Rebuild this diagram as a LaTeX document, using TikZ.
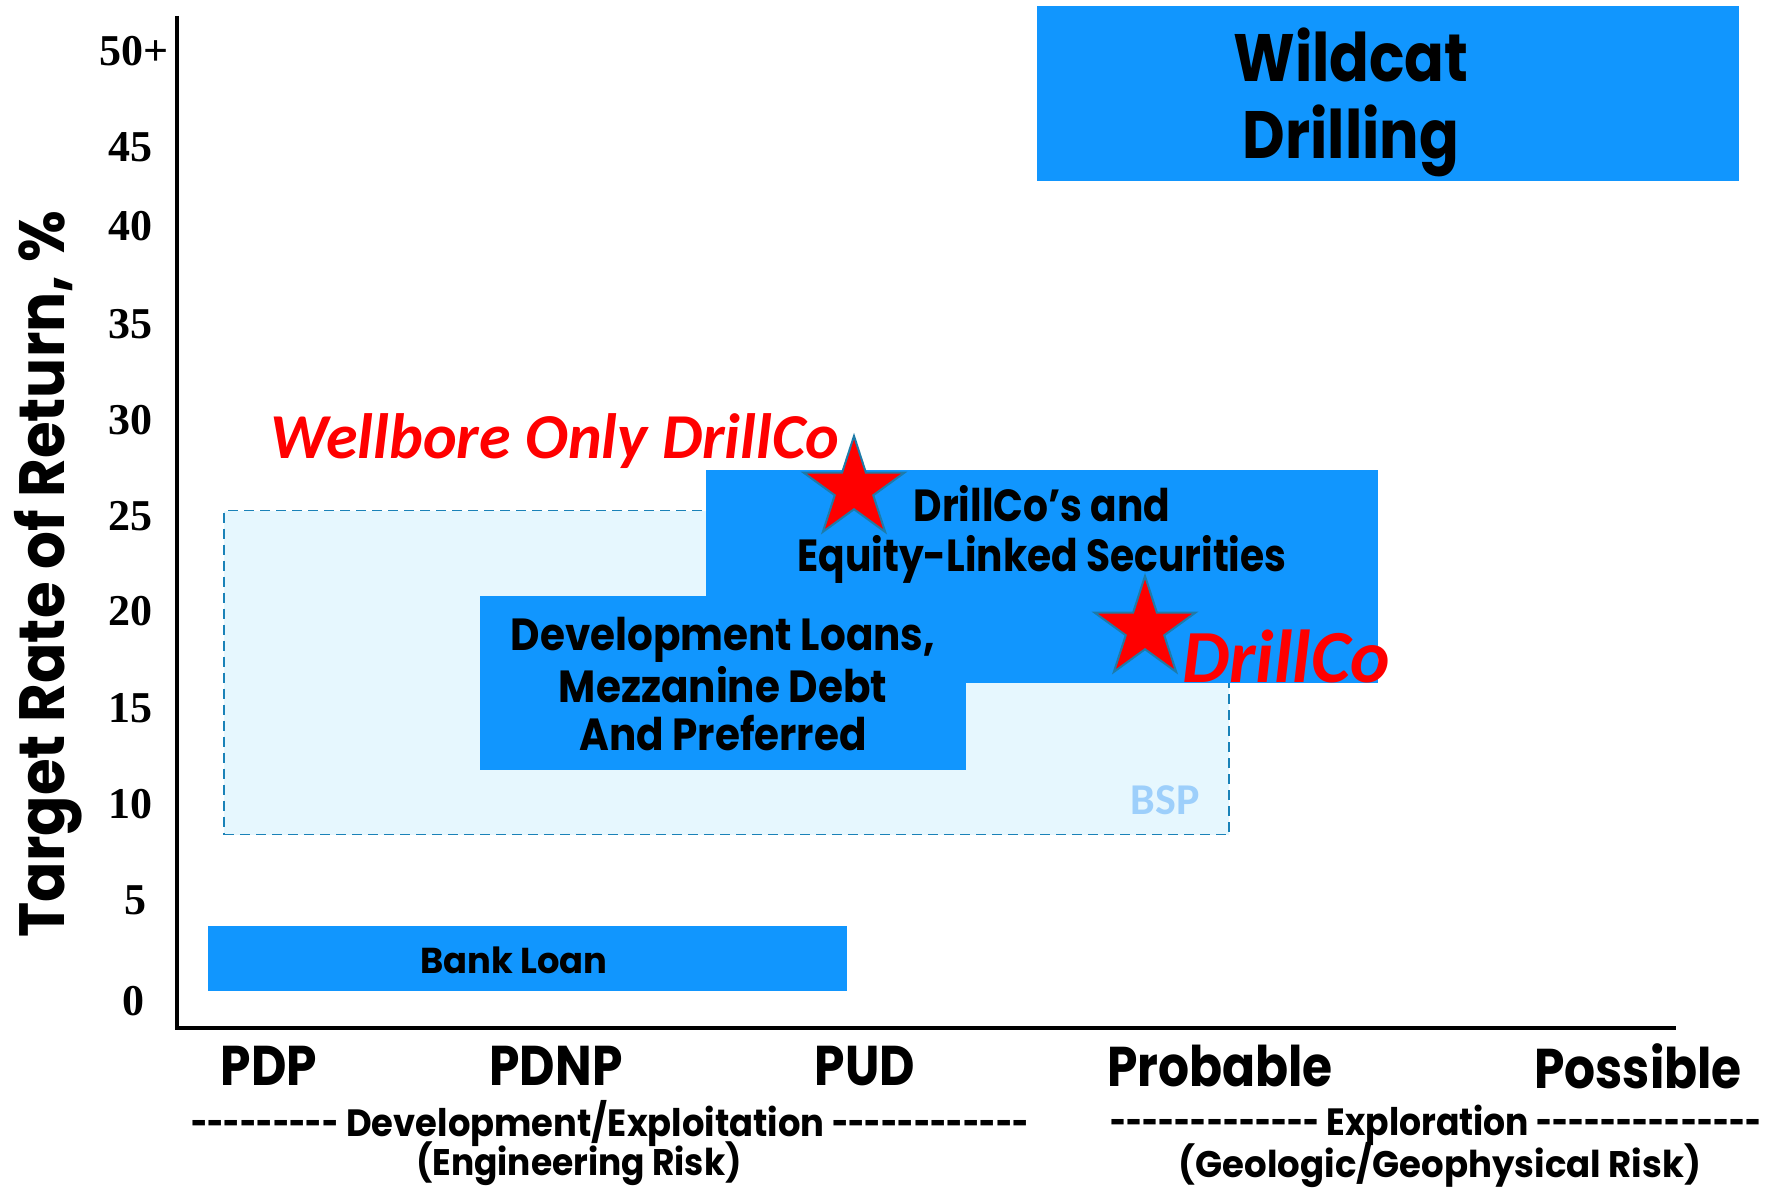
\documentclass[tikz,border=0pt]{standalone}
\usepackage{graphicx}
\usepackage{fontspec}
\setmainfont{Liberation Serif}
\newfontfamily\cgfont{Poppins}
\newfontfamily\calfont{Carlito}
\usetikzlibrary{shapes.geometric}
\definecolor{boxblue}{HTML}{1196FE}
\definecolor{bspfill}{HTML}{E6F7FE}
\definecolor{bspline}{HTML}{1A82B8}
\definecolor{bsptext}{HTML}{9DCFFB}
\definecolor{starline}{HTML}{1E7BA8}
\newcommand{\dsh}[1]{\scalebox{0.8}[1]{#1}}
\tikzset{
  bluebox/.style={fill=boxblue, draw=none, inner sep=0pt},
  ticklab/.style={font=\fontsize{44}{44}\selectfont\bfseries, inner sep=0pt},
  cgtext/.style={font=\fontsize{#1}{#1}\cgfont\bfseries, inner sep=0pt, align=center},
  redlab/.style={font=\fontsize{#1}{#1}\calfont\bfseries\itshape, text=red, inner sep=0pt},
  redstar/.style={star, star points=5, star point ratio=2.618, minimum size=106pt, inner sep=0pt, fill=red, draw=starline, line width=2pt}
}
\begin{document}
\begin{tikzpicture}[x=1pt,y=-1pt]
\useasboundingbox (0,0) rectangle (1771,1188);
% BSP region
\node[draw=bspline, fill=bspfill, line width=1.8pt, dash pattern=on 10pt off 6pt, minimum width=1005pt, minimum height=324pt, inner sep=0pt] (bsp) at (726.5,672.5) {};
\node[font=\fontsize{44}{44}\calfont\bfseries, text=bsptext, inner sep=0pt] (bsplab) at (1165,800) {BSP};
% boxes
\node[bluebox, minimum width=702pt, minimum height=174pt] (wild) at (1388,93.5) {};
\node[cgtext=67, xscale=0.875] (wildtxt) at (1351,102) {Wildcat\\[10pt]Drilling};
\node[bluebox, minimum width=672pt, minimum height=213pt] (eq) at (1042,576.5) {};
\node[bluebox, minimum width=486pt, minimum height=174pt] (dev) at (723,683) {};
\node[bluebox, minimum width=639pt, minimum height=64.5pt] (bank) at (527.5,958.25) {};
\node[cgtext=36, xscale=0.98] (banktxt) at (514,960) {Bank Loan};
\node[cgtext=45, xscale=0.9] (devtxt) at (723,684) {Development Loans,\\[3pt]Mezzanine Debt\\[3pt]And Preferred};
\node[cgtext=45, xscale=0.87] (eqtxt) at (1042,534) {DrillCo’s and\\[5pt]Equity-Linked Securities};
% stars
\node[redstar] (star1) at (854,489) {};
\node[redstar] (star2) at (1145,629) {};
\node[redlab=64] (wellbore) at (555,441) {Wellbore Only DrillCo};
\node[redlab=75] (drillco) at (1286,656) {DrillCo};
% axes
\draw[line width=4.5pt] (177,16) -- (177,1028) -- (1676,1028);
% ticks
\node[ticklab] (t50) at (134,51) {50+};
\node[ticklab] (t45) at (130,147) {45};
\node[ticklab] (t40) at (130,226) {40};
\node[ticklab] (t35) at (130,324) {35};
\node[ticklab] (t30) at (130,420) {30};
\node[ticklab] (t25) at (130,516) {25};
\node[ticklab] (t20) at (130,611) {20};
\node[ticklab] (t15) at (130,708) {15};
\node[ticklab] (t10) at (130,804) {10};
\node[ticklab] (t5) at (135,900) {5};
\node[ticklab] (t0) at (133,1001) {0};
% y label
\node[cgtext=64, rotate=90, xscale=0.93] (ylab) at (48,574) {Target Rate of Return, \%};
% x labels
\node[cgtext=56, xscale=0.87] (pdp) at (269,1066) {PDP};
\node[cgtext=56, xscale=0.87] (pdnp) at (556,1066) {PDNP};
\node[cgtext=56, xscale=0.87] (pud) at (865,1066) {PUD};
\node[cgtext=56, xscale=0.87] (prob) at (1220,1066) {Probable};
\node[cgtext=56, xscale=0.87] (poss) at (1638,1066) {Possible};
\node[cgtext=38, xscale=0.93] (dev1) at (610,1123) {\dsh{---------} Development/Exploitation \dsh{------------}};
\node[cgtext=37, xscale=0.93] (dev2) at (579,1164) {(Engineering Risk)};
\node[cgtext=38, xscale=0.91] (exp1) at (1436,1125) {\dsh{-------------} Exploration \dsh{--------------}};
\node[cgtext=37, xscale=0.96] (exp2) at (1440,1165) {(Geologic/Geophysical Risk)};
\end{tikzpicture}
\end{document}
